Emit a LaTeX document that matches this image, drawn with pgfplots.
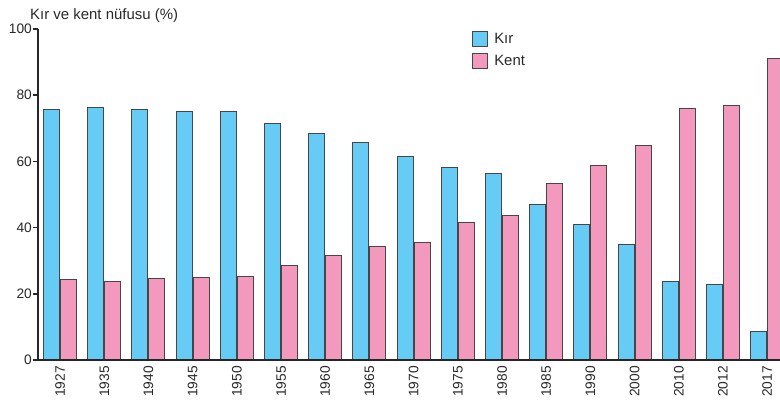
\documentclass[border=0pt]{standalone}
\usepackage{fontspec}
\setmainfont{Liberation Sans}
\usepackage{pgfplots}
\pgfplotsset{compat=1.18}
\usetikzlibrary{calc}
\definecolor{kir}{RGB}{102,204,245}
\definecolor{kent}{RGB}{243,153,190}
\definecolor{edge}{RGB}{70,70,70}
\definecolor{txt}{RGB}{40,40,40}
\begin{document}
\begin{tikzpicture}
\begin{axis}[
  name=ax,
  scale only axis, width=742bp, height=331bp,
  xmin=-0.5, xmax=16.29, ymin=0, ymax=100,
  axis x line*=bottom, axis y line*=left,
  axis on top,
  axis line style={line width=1.6bp, draw=black!85},
  ybar=1bp, bar width=16bp,
  xtick={0,...,16},
  xticklabels={1927,1935,1940,1945,1950,1955,1960,1965,1970,1975,1980,1985,1990,2000,2010,2012,2017},
  xtick style={draw=none},
  xticklabel style={rotate=90, anchor=east, inner sep=1bp, yshift=0bp, font=\fontsize{13.8}{15}\selectfont, text=txt},
  ytick={0,20,40,60,80,100},
  ytick style={line width=1.5bp, draw=black!85},
  tick align=outside, major tick length=5bp,
  yticklabel style={inner sep=1bp, font=\fontsize{13.8}{15}\selectfont, text=txt},
  /pgf/number format/assume math mode=true,
  legend style={at={(rel axis cs:0.585,0.995)}, anchor=north west, draw=none, fill=none,
    font=\fontsize{15}{17}\selectfont, row sep=6bp, inner sep=0pt, text=txt,
    nodes={inner xsep=6bp, inner ysep=1bp}},
  legend cell align=left,
  legend image code/.code={\draw[#1, draw=edge, line width=1bp] (0bp,-7.5bp) rectangle (15bp,7.5bp);},
]
\addplot[fill=kir, draw=edge, line width=1bp] coordinates {
(0,75.8) (1,76.4) (2,75.8) (3,75.2) (4,75.2) (5,71.3) (6,68.3) (7,65.6) (8,61.6)
(9,58.3) (10,56.2) (11,46.9) (12,41.0) (13,35.0) (14,23.8) (15,22.7) (16,8.7)};
\addplot[fill=kent, draw=edge, line width=1bp] coordinates {
(0,24.2) (1,23.6) (2,24.5) (3,24.8) (4,25.1) (5,28.7) (6,31.7) (7,34.4) (8,35.4)
(9,41.6) (10,43.7) (11,53.2) (12,58.9) (13,64.7) (14,76.0) (15,77.0) (16,91.2)};
\legend{Kır,Kent}
\end{axis}
\node[anchor=base west, inner sep=0pt, font=\fontsize{15}{17}\selectfont, text=txt] at ($(ax.north west)+(-8bp,9bp)$) {Kır ve kent nüfusu (\%)};
\pgfresetboundingbox
\useasboundingbox ($(ax.south west)+(-38bp,-43bp)$) rectangle ($(ax.north east)+(0bp,29bp)$);
\end{tikzpicture}
\end{document}
